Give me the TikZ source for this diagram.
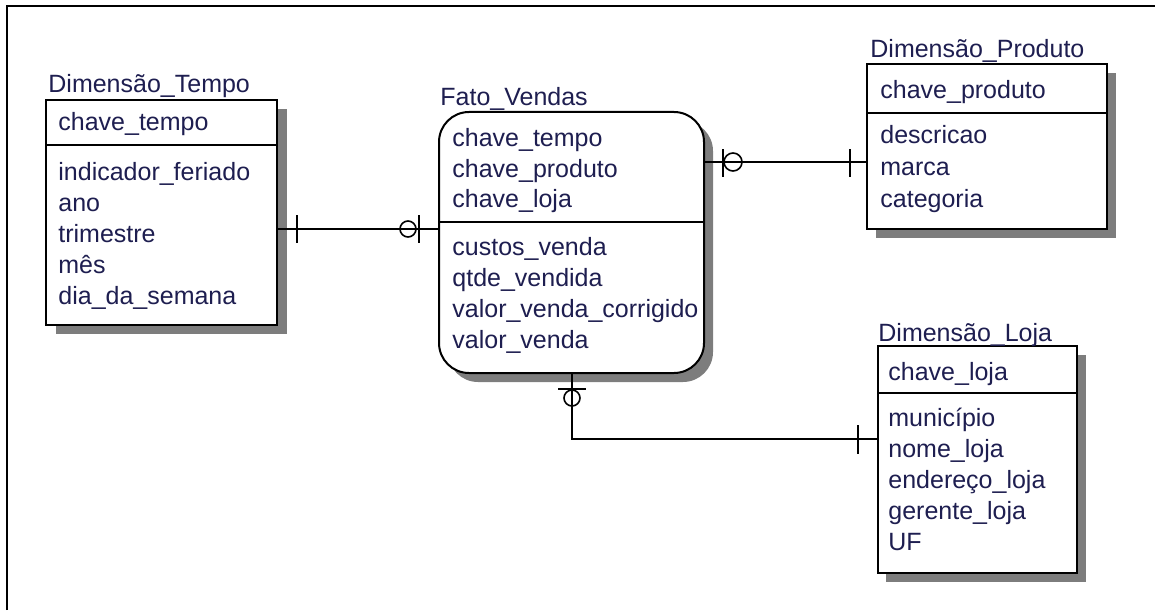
\documentclass[tikz,border=0pt]{standalone}
\usepackage{fontspec}
\setmainfont{Liberation Sans}
\usetikzlibrary{positioning,fit}
\definecolor{navytext}{RGB}{30,30,80}
\definecolor{shadowgray}{RGB}{125,125,125}
\tikzset{
  tablebox/.style={draw, line width=1pt, fill=white, inner sep=0pt},
  shadowbox/.style={fill=shadowgray, inner sep=0pt},
  field/.style={anchor=base west, inner sep=0pt, text=navytext, font=\fontsize{12.5}{15}\selectfont},
  tabtitle/.style={field},
  link/.style={line width=0.8pt},
}
\begin{document}
\begin{tikzpicture}[x=0.5pt, y=-0.5pt]
    \useasboundingbox (0,0) rectangle (1155,610);
    % Frame
    \draw[line width=1pt] (7,610) -- (7,6) -- (1155,6);

    % Dimensao Tempo
    \node[shadowbox, fit={(56,109) (287,334)}] (tempo-shadow) {};
    \node[tablebox, fit={(46,100) (277,325)}] (tempo) {};
    \draw[line width=1pt] (tempo.west |- 0,145) -- (tempo.east |- 0,145);
    \node[tabtitle] (tempo-title) at (48,92) {Dimensão\_Tempo};
    \node[field] (tempo-key) at (58,131) {chave\_tempo};
    \foreach \txt [count=\i] in {indicador\_feriado, ano, trimestre, mês, dia\_da\_semana}
        \node[field] (tempo-\i) at (58,149+31*\i) {\txt};

    % Fato Vendas
    \node[shadowbox, rounded corners=15pt, fit={(448,121) (713,382)}] (fato-shadow) {};
    \node[tablebox, rounded corners=15pt, fit={(439,112) (704,373)}] (fato) {};
    \draw[line width=1pt] (fato.west |- 0,222) -- (fato.east |- 0,222);
    \node[tabtitle] (fato-title) at (440,105) {Fato\_Vendas};
    \foreach \txt [count=\i] in {chave\_tempo, chave\_produto, chave\_loja}
        \node[field] (fato-key\i) at (452,117+30*\i) {\txt};
    \foreach \txt [count=\i] in {custos\_venda, qtde\_vendida, valor\_venda\_corrigido, valor\_venda}
        \node[field] (fato-\i) at (452,224+31*\i) {\txt};

    % Dimensao Produto
    \node[shadowbox, fit={(876,73) (1116,238)}] (produto-shadow) {};
    \node[tablebox, fit={(867,64) (1107,229)}] (produto) {};
    \draw[line width=1pt] (produto.west |- 0,113) -- (produto.east |- 0,113);
    \node[tabtitle] (produto-title) at (870,58) {Dimensão\_Produto};
    \node[field] (produto-key) at (880,98) {chave\_produto};
    \foreach \txt [count=\i] in {descricao, marca, categoria}
        \node[field] (produto-\i) at (880,111+32*\i) {\txt};

    % Dimensao Loja
    \node[shadowbox, fit={(886,355) (1086,582)}] (loja-shadow) {};
    \node[tablebox, fit={(878,346) (1077,573)}] (loja) {};
    \draw[line width=1pt] (loja.west |- 0,393) -- (loja.east |- 0,393);
    \node[tabtitle] (loja-title) at (878,341) {Dimensão\_Loja};
    \node[field] (loja-key) at (888,380) {chave\_loja};
    \foreach \txt [count=\i] in {município, nome\_loja, endereço\_loja, gerente\_loja, UF}
        \node[field] (loja-\i) at (888,395+31*\i) {\txt};

    % Tempo -- Fato
    \draw[link] (tempo.east |- 0,229) -- (fato.west |- 0,229);
    \draw[link] (297,215) -- (297,243);
    \draw[link] (419,215) -- (419,243);
    \draw[link] (408,229) circle[radius=4pt];

    % Fato -- Produto
    \draw[link] (fato.east |- 0,162) -- (produto.west |- 0,162);
    \draw[link] (723,149) -- (723,177);
    \draw[link] (733,162) circle[radius=4.5pt];
    \draw[link] (850,149) -- (850,177);

    % Fato -- Loja
    \draw[link] (fato.south -| 572,0) |- (loja.west |- 0,439);
    \draw[link] (558,389) -- (586,389);
    \draw[link] (572,398) circle[radius=4pt];
    \draw[link] (858,425) -- (858,454);
\end{tikzpicture}
\end{document}
